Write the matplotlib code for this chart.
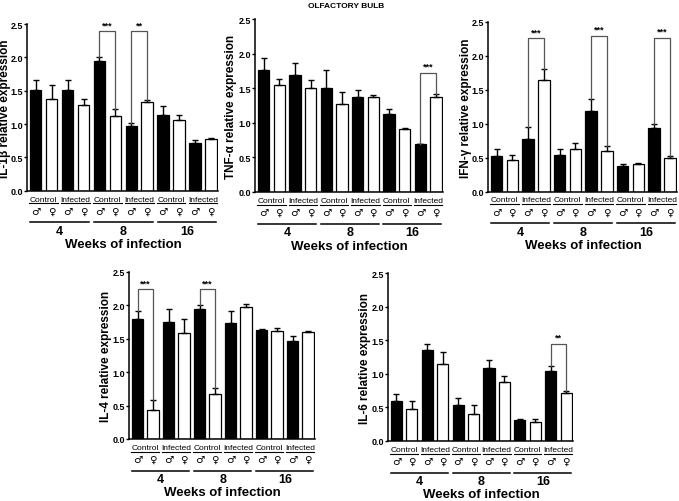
import matplotlib
matplotlib.use("Agg")
import matplotlib.pyplot as plt
from matplotlib.transforms import blended_transform_factory

plt.rcParams['font.family'] = ['Liberation Sans', 'DejaVu Sans']
plt.rcParams['font.weight'] = 'bold'

W, H = 679, 502

weeks = ["4", "8", "16"]
groups = ["Control", "Infected"]
sexes = ["\u2642", "\u2640"]

# 12 barras por panel: (4, 8, 16 semanas) x (Control, Infectado) x (macho, hembra)
il1b_mean = [1.51, 1.38, 1.51, 1.28, 1.94, 1.12, 0.97, 1.33, 1.14, 1.06, 0.72, 0.77]
il1b_err = [0.15, 0.20, 0.15, 0.10, 0.07, 0.11, 0.05, 0.03, 0.13, 0.07, 0.04, 0.02]
il1b_sig = [(4, 5, 2.39, "***"), (6, 7, 2.39, "**")]

tnf_mean = [1.76, 1.54, 1.69, 1.51, 1.51, 1.27, 1.37, 1.37, 1.13, 0.91, 0.69, 1.38]
tnf_err = [0.18, 0.10, 0.17, 0.11, 0.25, 0.18, 0.10, 0.03, 0.07, 0.02, 0.01, 0.03]
tnf_sig = [(10, 11, 1.72, "***")]

ifn_mean = [0.53, 0.46, 0.77, 1.64, 0.54, 0.63, 1.18, 0.60, 0.38, 0.40, 0.94, 0.50]
ifn_err = [0.10, 0.08, 0.18, 0.17, 0.09, 0.08, 0.19, 0.07, 0.02, 0.02, 0.05, 0.03]
ifn_sig = [(2, 3, 2.26, "***"), (6, 7, 2.30, "***"), (10, 11, 2.27, "***")]

il4_mean = [1.79, 0.44, 1.75, 1.59, 1.94, 0.68, 1.74, 1.97, 1.63, 1.62, 1.47, 1.60]
il4_err = [0.12, 0.15, 0.19, 0.20, 0.07, 0.08, 0.17, 0.05, 0.01, 0.04, 0.07, 0.02]
il4_sig = [(0, 1, 2.24, "***"), (4, 5, 2.24, "***")]

il6_mean = [0.60, 0.47, 1.35, 1.14, 0.54, 0.40, 1.08, 0.88, 0.31, 0.29, 1.04, 0.72]
il6_err = [0.10, 0.13, 0.10, 0.19, 0.10, 0.13, 0.13, 0.08, 0.01, 0.03, 0.08, 0.03]
il6_sig = [(10, 11, 1.45, "**")]

# (etiqueta, medias, errores, significancia, caja en px (izq, der, arriba, abajo), centro etiqueta y)
panels = [
    ("IL-1\u03b2 relative expression", il1b_mean, il1b_err, il1b_sig, (27, 218, 25, 191.7), 5),
    ("TNF-\u03b1 relative expression", tnf_mean, tnf_err, tnf_sig, (255, 443, 20, 193), 231),
    ("IFN-\u03b3 relative expression", ifn_mean, ifn_err, ifn_sig, (488, 677, 23, 192.5), 466),
    ("IL-4 relative expression", il4_mean, il4_err, il4_sig, (129, 315, 273, 440), 106),
    ("IL-6 relative expression", il6_mean, il6_err, il6_sig, (388, 573, 274, 442), 365),
]


def panel(fig, ylabel, mean, err, sig, box, ylab_x):
    l, r, t, b = box
    axh = b - t
    axw = r - l
    ax = fig.add_axes([l / W, 1 - b / H, axw / W, axh / H])
    x = list(range(len(mean)))
    colors = ["black" if i % 2 == 0 else "white" for i in x]
    ax.bar(x, mean, width=0.72, color=colors, edgecolor="black", linewidth=0.9)
    ax.errorbar(x, mean, yerr=[[0] * len(err), err], fmt="none",
                ecolor="black", elinewidth=1.0, capsize=2.5, capthick=1.0)

    # corchetes de significancia
    for i, j, h, txt in sig:
        ax.plot([i, i, j, j], [mean[i] + err[i], h, h, mean[j] + err[j]],
                color="#555555", linewidth=0.9)
        ax.text((i + j) / 2, h + 0.03, txt, ha="center", va="bottom", fontsize=6.5)

    ax.set_xlim(-0.55, 11.45)
    ax.set_ylim(0, 2.5)
    ax.set_yticks([0, 0.5, 1.0, 1.5, 2.0, 2.5])
    ax.set_yticklabels(["0.0", "0.5", "1.0", "1.5", "2.0", "2.5"])
    ax.set_xticks([])
    ax.tick_params(axis="y", direction="out", length=2.5, width=1, labelsize=6.5, pad=0.5)
    for lab in ax.get_yticklabels():
        lab.set_fontweight("bold")
    ax.spines["top"].set_visible(False)
    ax.spines["right"].set_visible(False)
    ax.spines["left"].set_linewidth(1.1)
    ax.spines["bottom"].set_linewidth(1.1)
    ax.set_ylabel(ylabel, fontsize=8.5, fontweight="bold")
    ax.yaxis.label.set_va("center")
    ax.yaxis.set_label_coords((ylab_x - l) / axw, 0.5)

    tr = blended_transform_factory(ax.transData, ax.transAxes)

    def yy(px):
        return -px / axh

    for g in range(3):
        base = 4 * g
        for k, name in enumerate(groups):
            c = base + 2 * k
            ax.text(c + 0.5, yy(8.5), name, transform=tr, ha="center", va="center",
                    fontsize=6, fontweight="normal")
            ax.plot([c - 0.4, c + 1.4], [yy(12.5), yy(12.5)], transform=tr,
                    color="black", linewidth=0.8, clip_on=False)
            for s in range(2):
                ax.text(c + s, yy(20), sexes[s], transform=tr, ha="center", va="center",
                        fontsize=7.5, family="DejaVu Sans", fontweight="normal")
        ax.plot([base - 0.35, base + 3.35], [yy(31.5), yy(31.5)], transform=tr,
                color="black", linewidth=1.1, clip_on=False)
        ax.text(base + 1.5, yy(40.5), weeks[g], transform=tr, ha="center", va="center",
                fontsize=9, fontweight="bold")
    ax.text(5.5, yy(53.5), "Weeks of infection", transform=tr, ha="center",
            va="center", fontsize=9.5, fontweight="bold")
    return ax


fig = plt.figure(figsize=(W / 100, H / 100), dpi=100)
for p in panels:
    panel(fig, *p)
fig.text(346 / W, 1 - 7 / H, "OLFACTORY BULB", ha="center", va="center",
         fontsize=6, fontweight="bold")
fig.savefig("out.png", dpi=100)
